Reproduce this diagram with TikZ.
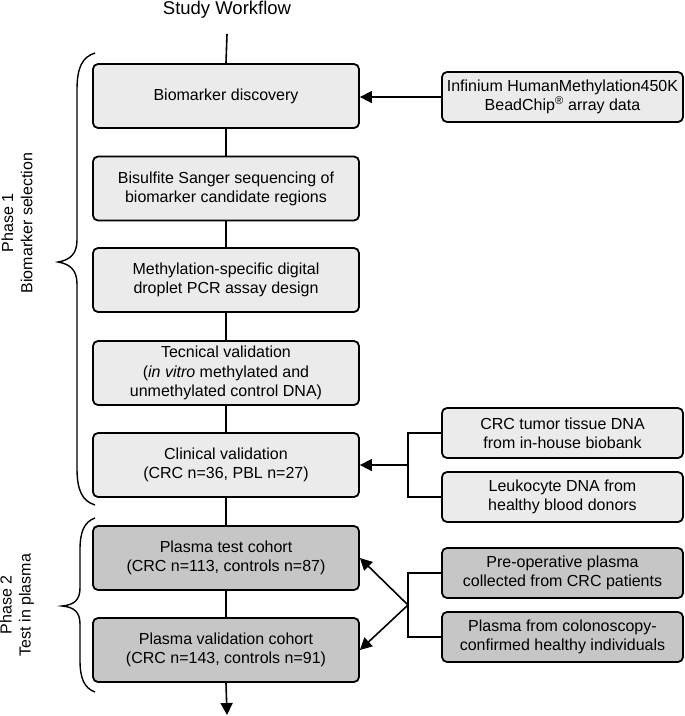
\documentclass[tikz,border=0pt]{standalone}
\usepackage{fontspec}
\setmainfont{Liberation Sans}
\usetikzlibrary{arrows.meta}
\definecolor{lightbox}{RGB}{235,235,235}
\definecolor{darkbox}{RGB}{198,198,198}
\begin{document}
\begin{tikzpicture}[x=1pt,y=-1pt,
  every node/.style={font=\fontsize{16}{19.2}\selectfont, align=center, inner sep=0pt},
  mainbox/.style={draw=black, line width=1.8pt, rounded corners=5pt, minimum width=266pt, minimum height=64pt},
  sidebox/.style={draw=black, line width=1.8pt, rounded corners=5pt, minimum width=241pt, minimum height=50pt},
  lightfill/.style={fill=lightbox},
  darkfill/.style={fill=darkbox},
  conn/.style={line width=1.6pt},
  arr/.style={line width=1.6pt, -{Triangle[length=12pt,width=12pt]}},
  bracestyle/.style={line width=1.4pt}
]
\useasboundingbox (0,0) rectangle (685,716);

\node[font=\fontsize{18.5}{22}\selectfont] (title) at (227,10) {Study Workflow};
\coordinate (top) at (227,34);
\coordinate (bottom) at (227,715);

\node[mainbox,lightfill] (disc) at (226,96) {Biomarker discovery};
\node[mainbox,lightfill] (bss) at (226,188.5) {Bisulfite Sanger sequencing of\\biomarker candidate regions};
\node[mainbox,lightfill] (msd) at (226,280) {Methylation-specific digital\\droplet PCR assay design};
\node[mainbox,lightfill] (tech) at (226,373) {Tecnical validation\\(\textit{in vitro} methylated and\\unmethylated control DNA)};
\node[mainbox,lightfill] (clin) at (226,465) {Clinical validation\\(CRC n=36, PBL n=27)};
\node[mainbox,darkfill] (ptest) at (226,558) {Plasma test cohort\\(CRC n=113, controls n=87)};
\node[mainbox,darkfill] (pval) at (226,650) {Plasma validation cohort\\(CRC n=143, controls n=91)};

\node[sidebox,lightfill] (inf) at (562.5,97) {Infinium HumanMethylation450K\\BeadChip\textsuperscript{®} array data};
\node[sidebox,lightfill] (crc) at (562.5,433) {CRC tumor tissue DNA\\from in-house biobank};
\node[sidebox,lightfill] (leuk) at (562.5,497) {Leukocyte DNA from\\healthy blood donors};
\node[sidebox,darkfill] (preop) at (562.5,573) {Pre-operative plasma\\collected from CRC patients};
\node[sidebox,darkfill] (colo) at (562.5,637) {Plasma from colonoscopy-\\confirmed healthy individuals};

% main flow
\draw[conn] (top) -- (disc.north);
\draw[conn] (disc.south) -- (bss.north);
\draw[conn] (bss.south) -- (msd.north);
\draw[conn] (msd.south) -- (tech.north);
\draw[conn] (tech.south) -- (clin.north);
\draw[conn] (clin.south) -- (ptest.north);
\draw[conn] (ptest.south) -- (pval.north);
\draw[arr] (pval.south) -- (bottom);

% side inputs
\draw[arr] (inf.west) -- (disc.east |- inf.west);
\coordinate (j1) at (408,465);
\draw[conn] (crc.west) -| (j1) |- (leuk.west);
\draw[arr] (j1) -- (clin.east);
\coordinate (j2) at (408,605);
\draw[conn] (preop.west) -| (j2) |- (colo.west);
\draw[arr] (j2) -- (ptest.east);
\draw[arr] (j2) -- (pval.east);

% braces
\draw[bracestyle] (95,53) .. controls (82,57) and (77,68) .. (77,90) -- (77,240)
  .. controls (77,254) and (70,260) .. (58,262)
  .. controls (70,264) and (77,270) .. (77,284) -- (77,468)
  .. controls (77,490) and (82,501) .. (95,505);
\draw[bracestyle] (95,518) .. controls (84,522) and (80,532) .. (80,550) -- (80,588)
  .. controls (80,600) and (74,605) .. (62,606)
  .. controls (74,607) and (80,612) .. (80,624) -- (80,660)
  .. controls (80,678) and (84,688) .. (95,692);

\node[rotate=90] (ph1) at (17,223) {Phase 1\\Biomarker selection};
\node[rotate=90] (ph2) at (17,605) {Phase 2\\Test in plasma};
\end{tikzpicture}
\end{document}
